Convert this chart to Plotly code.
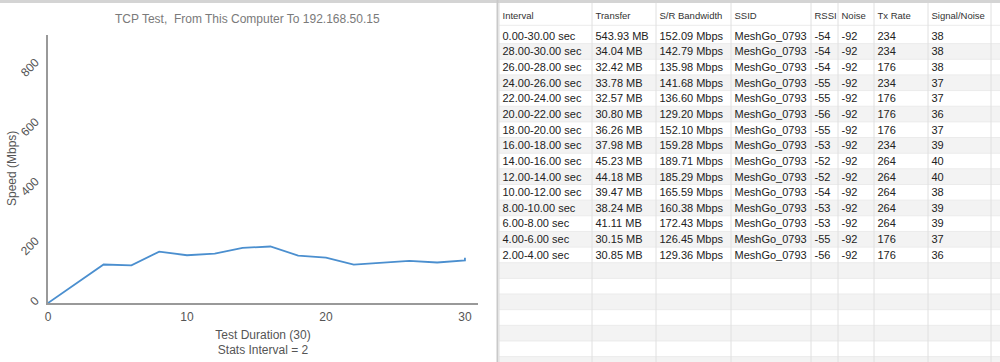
import plotly.graph_objects as go

# ---- data ----
intervals = ["0.00-30.00 sec", "28.00-30.00 sec", "26.00-28.00 sec", "24.00-26.00 sec",
             "22.00-24.00 sec", "20.00-22.00 sec", "18.00-20.00 sec", "16.00-18.00 sec",
             "14.00-16.00 sec", "12.00-14.00 sec", "10.00-12.00 sec", "8.00-10.00 sec",
             "6.00-8.00 sec", "4.00-6.00 sec", "2.00-4.00 sec"]
transfer = ["543.93 MB", "34.04 MB", "32.42 MB", "33.78 MB", "32.57 MB", "30.80 MB",
            "36.26 MB", "37.98 MB", "45.23 MB", "44.18 MB", "39.47 MB", "38.24 MB",
            "41.11 MB", "30.15 MB", "30.85 MB"]
bandwidth = ["152.09 Mbps", "142.79 Mbps", "135.98 Mbps", "141.68 Mbps", "136.60 Mbps",
             "129.20 Mbps", "152.10 Mbps", "159.28 Mbps", "189.71 Mbps", "185.29 Mbps",
             "165.59 Mbps", "160.38 Mbps", "172.43 Mbps", "126.45 Mbps", "129.36 Mbps"]
ssid = ["MeshGo_0793"] * 15
rssi = ["-54", "-54", "-54", "-55", "-55", "-56", "-55", "-53", "-52", "-52", "-54",
        "-53", "-53", "-55", "-56"]
noise = ["-92"] * 15
tx_rate = ["234", "234", "176", "234", "176", "176", "176", "234", "264", "264", "264",
           "264", "264", "176", "176"]
snr = ["38", "38", "38", "37", "37", "36", "37", "39", "40", "40", "38", "39", "39",
       "37", "36"]
headers = ["Interval", "Transfer", "S/R Bandwidth", "SSID", "RSSI", "Noise", "Tx Rate",
           "Signal/Noise"]

# chart series (time in seconds, speed in Mbps)
time_s = [0, 4, 6, 8, 10, 12, 14, 16, 18, 20, 22, 24, 26, 28, 30, 30]
speed = [0, 129.36, 126.45, 172.43, 160.38, 165.59, 185.29, 189.71, 159.28, 152.10,
         129.20, 136.60, 141.68, 135.98, 142.79, 152.09]

# ---- styling / geometry ----
W, H = 1000, 362
TABLE_W = 501                       # table width in px (x2 units)
col_edges = [0, 93, 157, 232, 312, 339, 375, 429, 492]
text_pad = 3.5
ROW_PX = 15.65                      # row height in px
y2_top = -2.096                     # value at top of table domain (rows units)
y2_bottom = y2_top + (H - 3) / ROW_PX
header_y = y2_top + 13.5 / ROW_PX
header_line_y = y2_top + 22.3 / ROW_PX
n_rows_total = int(y2_bottom) + 1

body_font = dict(family="Liberation Sans, Arial", size=11, color="#222222")
head_font = dict(family="Liberation Sans, Arial", size=9.5, color="#333333")

fig = go.Figure()

# speed line
fig.add_trace(go.Scatter(
    x=time_s, y=speed, mode="lines",
    line=dict(color="#4b8fcf", width=1.8),
    hoverinfo="skip", showlegend=False, xaxis="x", yaxis="y",
))

# table grid lines (row separators then column separators)
gx, gy = [], []
for yb in [header_line_y] + [i + 0.5 for i in range(n_rows_total)]:
    gx += [0, TABLE_W, None]
    gy += [yb, yb, None]
fig.add_trace(go.Scatter(x=gx, y=gy, mode="lines", line=dict(color="#ebebeb", width=1),
                         hoverinfo="skip", showlegend=False, xaxis="x2", yaxis="y2"))
cx, cy = [], []
for xe in col_edges:
    cx += [xe, xe, None]
    cy += [y2_top, y2_bottom, None]
fig.add_trace(go.Scatter(x=cx, y=cy, mode="lines", line=dict(color="#e0e0e0", width=1),
                         hoverinfo="skip", showlegend=False, xaxis="x2", yaxis="y2"))

# header text
fig.add_trace(go.Scatter(
    x=[e + text_pad for e in col_edges[:len(headers)]], y=[header_y] * len(headers),
    text=headers, mode="text", textposition="middle right", textfont=head_font,
    hoverinfo="skip", showlegend=False, xaxis="x2", yaxis="y2",
))

# body text
columns = [intervals, transfer, bandwidth, ssid, rssi, noise, tx_rate, snr]
for j, col in enumerate(columns):
    fig.add_trace(go.Scatter(
        x=[col_edges[j] + text_pad] * len(col), y=[i + 0.07 for i in range(len(col))],
        text=col, mode="text", textposition="middle right", textfont=body_font,
        hoverinfo="skip", showlegend=False, xaxis="x2", yaxis="y2",
    ))

# zebra stripes
shapes = []
for i in range(n_rows_total + 1):
    if i % 2 == 1:
        shapes.append(dict(type="rect", xref="x2", yref="y2", x0=0, x1=TABLE_W,
                           y0=i - 0.5, y1=i + 0.5, fillcolor="#f3f3f3",
                           line=dict(width=0), layer="below"))

# panel borders
shapes += [
    dict(type="rect", xref="paper", yref="paper", x0=0, x1=1, y0=1 - 3 / H, y1=1,
         fillcolor="#d4d4d4", line=dict(width=0), layer="above"),
    dict(type="rect", xref="paper", yref="paper", x0=0.4965, x1=0.4985, y0=0, y1=1,
         fillcolor="#c9c9c9", line=dict(width=0), layer="above"),
]

axis_font = dict(family="Liberation Sans, Arial", size=12, color="#555555")
y_dom = [1 - 303 / H, 1 - 35 / H]
fig.update_layout(
    width=W, height=H,
    margin=dict(l=0, r=0, t=0, b=0),
    paper_bgcolor="#ffffff",
    plot_bgcolor="#ffffff",
    font=axis_font,
    showlegend=False,
    xaxis=dict(
        domain=[0.048, 0.478], range=[0, 30.94],
        automargin=False,
        showgrid=False, zeroline=False,
        showline=True, linecolor="#999999", linewidth=2,
        tickvals=[0, 10, 20, 30], ticks="", ticklen=0, ticklabelstandoff=2,
        tickfont=axis_font,
        title=dict(text="Test Duration (30)<br>Stats Interval = 2", font=axis_font, standoff=7),
    ),
    yaxis=dict(
        domain=y_dom, range=[0, 900],
        automargin=False,
        showgrid=False, zeroline=False,
        showline=True, linecolor="#999999", linewidth=2,
        tickvals=[0, 200, 400, 600, 800], ticks="", ticklen=0,
        tickangle=-45, ticklabelstandoff=8, ticklabelshift=-4,
        tickfont=axis_font,
    ),
    xaxis2=dict(
        domain=[0.499, 1.0], range=[0, TABLE_W], anchor="y2",
        automargin=False, visible=False, fixedrange=True,
    ),
    yaxis2=dict(
        domain=[0, 1 - 3 / H], range=[y2_bottom, y2_top], anchor="x2",
        automargin=False, visible=False, fixedrange=True,
    ),
    annotations=[
        dict(
            text="TCP Test,  From This Computer To 192.168.50.15",
            x=0.247, y=1 - 19 / H, xref="paper", yref="paper",
            xanchor="center", yanchor="middle", showarrow=False,
            font=dict(family="Liberation Sans, Arial", size=12, color="#7a7a7a"),
        ),
        dict(
            text="Speed (Mbps)", textangle=-90,
            x=0.012, y=(y_dom[0] + y_dom[1]) / 2, xref="paper", yref="paper",
            xanchor="center", yanchor="middle", showarrow=False,
            font=axis_font,
        ),
    ],
    shapes=shapes,
)

fig.write_html("out.html")
